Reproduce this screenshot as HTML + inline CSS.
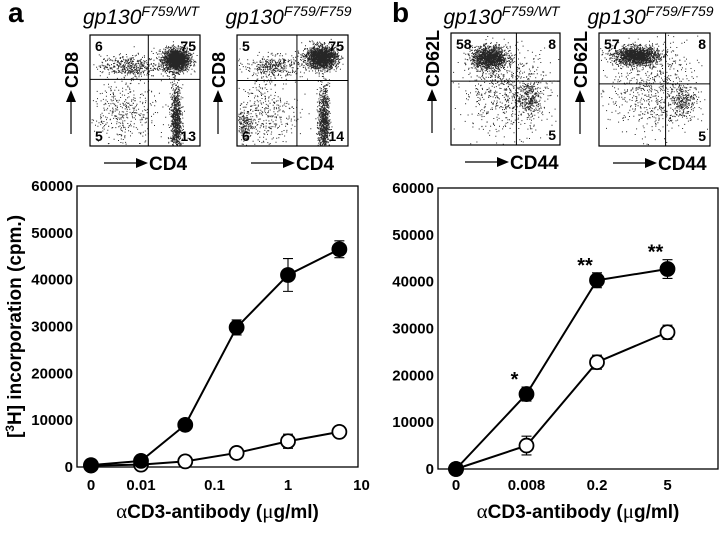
<!DOCTYPE html>
<html><head><meta charset="utf-8"><style>
html,body{margin:0;padding:0;background:#fff;}
svg{display:block;font-family:"Liberation Sans",Arial,sans-serif;}
</style></head><body>
<svg id="fig" width="720" height="558" viewBox="0 0 720 558">
<g id="flow"></g>
<g id="charts"></g>
</svg>
<script>
// ---------- chart data ----------
const doseA = [0, 0.01, 0.04, 0.2, 1, 5];
const filledA = [400, 1300, 9000, 29800, 41000, 46500];
const filledAErr = [0, 0, 0, 1600, 3500, 1800];
const openA = [300, 500, 1200, 3000, 5500, 7500];
const openAErr = [0, 0, 0, 0, 1500, 0];
const xTicksA = ["0", "0.01", "0.1", "1", "10"];
const xTickValsA = [0, 0.01, 0.1, 1, 10];
const yTicks = [0, 10000, 20000, 30000, 40000, 50000, 60000];

const catsB = ["0", "0.008", "0.2", "5"];
const filledB = [0, 16000, 40300, 42700];
const filledBErr = [0, 1500, 1600, 2000];
const openB = [0, 5000, 22800, 29200];
const openBErr = [0, 2000, 1500, 1500];
const starsB = ["", "*", "**", "**"];

const NS = "http://www.w3.org/2000/svg";
function mk(tag, attrs, parent) {
  const e = document.createElementNS(NS, tag);
  for (const k in attrs) e.setAttribute(k, attrs[k]);
  if (parent) parent.appendChild(e);
  return e;
}
function txt(parent, x, y, s, size, anchor, extra) {
  const t = mk("text", Object.assign({x: x, y: y, "font-size": size, "font-weight": "bold", "text-anchor": anchor || "middle", fill: "#000"}, extra || {}), parent);
  t.textContent = s;
  return t;
}

// ---------- flow plots ----------
const flow = document.getElementById("flow");
let seed = 12345;
function rnd() { seed = (seed * 1103515245 + 12345) & 0x7fffffff; return seed / 0x7fffffff; }
function gauss() { let u = rnd() || 1e-6, v = rnd(); return Math.sqrt(-2 * Math.log(u)) * Math.cos(2 * Math.PI * v); }

function flowPlot(x0, y0, w, h, gx, gy, clusters, labels, xl, yl, title, name) {
  const g = mk("g", {}, flow);
  
  
  let d = "";
  clusters.forEach(c => {
    for (let i = 0; i < c[4]; i++) {
      const u = c[0] + gauss() * c[2], v = c[1] + gauss() * c[3];
      if (u < 0.01 || u > 0.99 || v < 0.01 || v > 0.99) continue;
      const px = x0 + u * w, py = y0 + (1 - v) * h;
      d += "M" + px.toFixed(1) + " " + py.toFixed(1) + "h1v1h-1z";
    }
  });
  mk("path", {d: d, fill: "#000", opacity: 0.85}, g);
  mk("rect", {x: x0, y: y0, width: w, height: h, fill: "none", stroke: "#000", "stroke-width": 1.2}, g);
  mk("line", {x1: x0 + gx * w, y1: y0, x2: x0 + gx * w, y2: y0 + h, stroke: "#000", "stroke-width": 1}, g);
  mk("line", {x1: x0, y1: y0 + gy * h, x2: x0 + w, y2: y0 + gy * h, stroke: "#000", "stroke-width": 1}, g);
  if (labels[0]) txt(g, x0 + 5, y0 + 16, labels[0], 14, "start");
  if (labels[1]) txt(g, x0 + w - 4, y0 + 16, labels[1], 14, "end");
  if (labels[2]) txt(g, x0 + 5, y0 + h - 5, labels[2], 14, "start");
  if (labels[3]) txt(g, x0 + w - 4, y0 + h - 5, labels[3], 14, "end");
  mk("line", {x1: x0 + 14, y1: y0 + h + 17, x2: x0 + 46, y2: y0 + h + 17, stroke: "#000", "stroke-width": 1.2}, g);
  mk("path", {d: `M${x0+46} ${y0+h+12}L${x0+58} ${y0+h+17}L${x0+46} ${y0+h+22}z`, fill: "#000"}, g);
  const xt = txt(g, x0 + 59, y0 + h + 24, xl, 19, "start");
  
  const ax = x0 - 19;
  mk("line", {x1: ax, y1: y0 + h - 12, x2: ax, y2: y0 + h - 44, stroke: "#000", "stroke-width": 1.2}, g);
  mk("path", {d: `M${ax-5} ${y0+h-44}L${ax} ${y0+h-56}L${ax+5} ${y0+h-44}z`, fill: "#000"}, g);
  const yt = txt(g, 0, 0, yl, 18, "start", {transform: `translate(${ax+7},${y0+h-58}) rotate(-90)`});
  
  const t = mk("text", {x: x0 + w / 2 - 4, y: 24, "font-size": 21, "font-style": "italic", "text-anchor": "middle", fill: "#000"}, g);
  t.innerHTML = 'gp130<tspan dy="-8" font-size="14">' + title + '</tspan>';
  
}
const aWT = [[0.78,0.78,0.06,0.05,2000],[0.35,0.72,0.13,0.05,450],[0.78,0.22,0.025,0.16,900],[0.3,0.3,0.15,0.15,400]];
const aFF = [[0.76,0.8,0.07,0.05,1900],[0.33,0.72,0.13,0.05,400],[0.78,0.22,0.025,0.16,850],[0.25,0.3,0.15,0.17,400],[0.05,0.2,0.04,0.06,180]];
const bWT = [[0.35,0.78,0.08,0.05,1400],[0.5,0.5,0.2,0.2,700],[0.72,0.42,0.06,0.08,300]];
const bFF = [[0.33,0.8,0.1,0.04,1600],[0.5,0.5,0.2,0.2,700],[0.75,0.4,0.06,0.08,250]];
flowPlot(90, 35, 110, 111, 0.53, 0.4, aWT, ["6","75","5","13"], "CD4", "CD8", "F759/WT", "flow-plot-cd4-cd8-wt");
flowPlot(237, 35, 111, 111, 0.54, 0.41, aFF, ["5","75","6","14"], "CD4", "CD8", "F759/F759", "flow-plot-cd4-cd8-mutant");
flowPlot(451, 33, 109, 112, 0.6, 0.43, bWT, ["58","8","","5"], "CD44", "CD62L", "F759/WT", "flow-plot-cd44-cd62l-wt");
flowPlot(599, 33, 111, 113, 0.6, 0.45, bFF, ["57","8","","5"], "CD44", "CD62L", "F759/F759", "flow-plot-cd44-cd62l-mutant");
const pa = txt(flow, 8, 22, "a", 28, "start"); 
const pb = txt(flow, 392, 22, "b", 28, "start"); 

// ---------- line charts ----------
const charts = document.getElementById("charts");
function chart(L, R, T, B, xfun, xs, fvals, ferr, ovals, oerr, tickPos, tickLbls, stars, name, showYTitle) {
  const g = mk("g", {}, charts);
  
  
  const y = v => B - (v / 60000) * (B - T);
  mk("rect", {x: L, y: T, width: R - L, height: B - T, fill: "none", stroke: "#000", "stroke-width": 1.3}, g);
  yTicks.forEach(v => {
    const t = txt(g, L - 4, y(v) + 5, String(v), 15, "end");
    
  });
  tickPos.forEach((p, i) => {
    const t = txt(g, p, 490, tickLbls[i], 15, "middle");
    
  });
  const xt = txt(g, (L + R) / 2, 518, "", 19, "middle");
  xt.innerHTML = '<tspan font-family="Liberation Serif,serif" font-weight="normal" font-size="21">α</tspan>CD3-antibody (<tspan font-family="Liberation Serif,serif" font-weight="normal" font-size="21">μ</tspan>g/ml)';
  
  if (showYTitle) {
    const yt = txt(g, 0, 0, "", 19, "middle", {transform: `translate(${L - 56},${(T + B) / 2}) rotate(-90)`});
    yt.innerHTML = '[<tspan dy="-7" font-size="12">3</tspan><tspan dy="7">H] incorporation (cpm.)</tspan>';
    
  }
  function series(vals, errs, fill, sname) {
    const pts = xs.map((xv, i) => [xfun(xv, i), y(vals[i])]);
    const pl = mk("polyline", {points: pts.map(p => p.join(",")).join(" "), fill: "none", stroke: "#000", "stroke-width": 2}, g);
    
    pts.forEach((p, i) => {
      if (errs[i] > 0) {
        const e1 = y(vals[i] + errs[i]), e2 = y(vals[i] - errs[i]);
        const eb = mk("path", {d: `M${p[0]} ${e1}V${e2}M${p[0]-5} ${e1}H${p[0]+5}M${p[0]-5} ${e2}H${p[0]+5}`, stroke: "#000", "stroke-width": 1.1, fill: "none"}, g);
        
      }
    });
    pts.forEach((p, i) => {
      const c = mk("circle", {cx: p[0], cy: p[1], r: 7, fill: fill, stroke: "#000", "stroke-width": 1.8}, g);
      
    });
    return pts;
  }
  series(ovals, oerr, "#fff", "open-series");
  const fp = series(fvals, ferr, "#000", "filled-series");
  if (stars) fp.forEach((p, i) => {
    if (!stars[i]) return;
    const s = txt(g, p[0] - 12, y(fvals[i] + ferr[i]) - 1, stars[i], 20, "middle");
    
  });
}
const decA = 73.5, x001 = 141;
function xA(v) { return v === 0 ? 91 : x001 + (Math.log10(v) + 2) * decA; }
chart(77, 358, 186, 467, (v) => xA(v), doseA, filledA, filledAErr, openA, openAErr,
  xTickValsA.map(xA), xTicksA, null, "chart-a", true);
function xB(v, i) { return 456 + i * 70.5; }
chart(438, 718, 188, 469, xB, catsB, filledB, filledBErr, openB, openBErr,
  catsB.map((c, i) => xB(c, i)), catsB, starsB, "chart-b", false);
</script>
</body></html>
